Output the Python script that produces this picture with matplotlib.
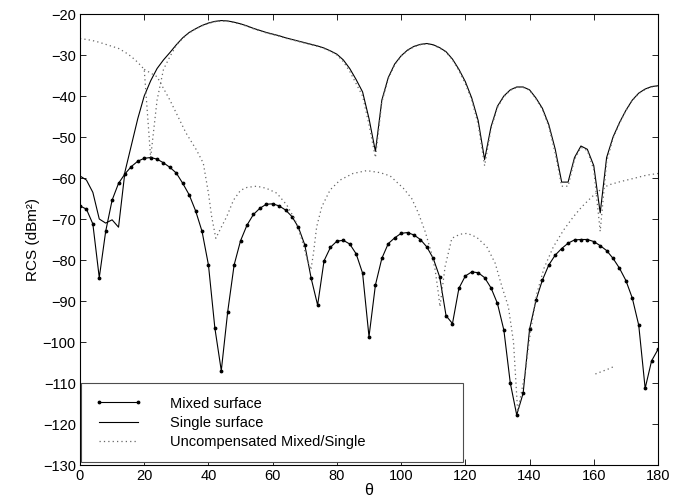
import numpy as np
import matplotlib
matplotlib.use("Agg")
import matplotlib.pyplot as plt

plt.rcParams["font.family"] = ["Liberation Sans", "DejaVu Sans"]

# sampling grid of the two computed curves (2 degree steps)
theta = np.arange(0, 182, 2)

mixed = [
    -66.8, -67.6, -71.2, -84.3, -73.0, -65.4, -61.3, -59.0, -57.2, -55.9,
    -55.2, -55.0, -55.4, -56.3, -57.4, -58.8, -61.3, -64.1, -68.0, -73.0,
    -81.2, -96.6, -107.0, -92.6, -81.2, -75.3, -71.5, -68.9, -67.4, -66.4,
    -66.3, -66.8, -67.8, -69.4, -72.0, -76.3, -84.5, -91.0, -80.2, -76.9,
    -75.4, -75.2, -76.1, -78.5, -83.2, -98.7, -86.1, -79.6, -76.0, -74.6,
    -73.5, -73.3, -73.9, -75.0, -76.8, -79.6, -84.1, -93.6, -95.5, -86.9,
    -83.9, -82.9, -83.1, -84.3, -86.8, -90.6, -97.1, -110.0, -117.8, -112.5,
    -96.9, -89.8, -84.9, -81.2, -78.8, -77.2, -75.9, -75.1, -75.0, -75.0,
    -75.5, -76.5, -77.7, -79.6, -82.0, -85.0, -89.3, -95.9, -111.3, -104.6,
    -101.8,
]

single = [
    -59.5, -60.5, -63.5, -70.0, -71.0, -70.2, -72.0, -58.5, -52.0, -45.5,
    -40.0, -36.3, -33.3, -31.2, -29.4, -27.5, -25.8, -24.5, -23.6, -22.8,
    -22.2, -21.8, -21.6, -21.7, -22.0, -22.4, -22.9, -23.5, -24.0, -24.5,
    -24.9, -25.3, -25.8, -26.2, -26.6, -27.0, -27.4, -27.8, -28.3, -29.0,
    -29.8, -31.2, -33.3, -36.0, -39.0, -45.5, -53.5, -41.0, -35.5, -32.2,
    -30.2, -28.8, -27.9, -27.4, -27.2, -27.5, -28.2, -29.2, -31.0, -33.5,
    -36.5, -40.5, -46.0, -55.5, -47.5, -42.5, -40.0, -38.5, -37.8, -37.8,
    -38.5, -40.5, -43.0, -47.0, -53.0, -61.0, -61.0, -55.0, -52.2, -53.0,
    -57.0, -68.5, -55.0, -50.0, -46.5, -43.5, -41.0, -39.3, -38.3, -37.7,
    -37.5,
]

# uncompensated curve that ends up on top of the single surface result
uncomp_a = [
    -26.0, -26.2, -26.5, -26.9, -27.4, -27.9, -28.4, -29.3, -30.4, -31.8,
    -33.5, -55.0, -41.0, -33.5, -30.4, -27.6, -25.9, -24.6, -23.7, -22.9,
    -22.3, -21.9, -21.7, -21.8, -22.1, -22.5, -23.0, -23.6, -24.1, -24.6,
    -25.0, -25.4, -25.9, -26.3, -26.7, -27.1, -27.5, -27.9, -28.4, -29.1,
    -30.0, -31.6, -34.0, -37.0, -40.0, -47.0, -55.0, -41.5, -35.8, -32.4,
    -30.3, -28.9, -28.0, -27.5, -27.3, -27.6, -28.3, -29.3, -31.2, -33.8,
    -37.0, -41.0, -47.0, -57.0, -48.0, -42.8, -40.2, -38.6, -37.9, -37.9,
    -38.6, -40.7, -43.3, -47.5, -54.0, -62.0, -62.0, -55.5, -52.5, -53.3,
    -58.0, -73.0, -56.0, -50.3, -46.7, -43.6, -41.1, -39.4, -38.4, -37.8,
    -37.6,
]

# uncompensated curve that stays close to the mixed surface result
uncomp_b_theta = [
    20, 24, 28, 33, 36.3, 38.4, 40, 41, 42.3, 44, 45.7, 47.8, 50, 52, 55,
    58, 61.3, 64.4, 67, 69.1, 70.8, 71.9, 72.7, 73.7, 75.3, 77.9, 81, 85,
    89.3, 93.5, 96.6, 100.7, 103.3, 105.4, 107.5, 109.5, 110.6, 111.6,
    112.1, 113.7, 115.8, 118.4, 120.7, 123.6, 126.7, 129.3, 131.4, 133.4,
    135, 136.3, 138.6, 140.2, 142.3, 144.5, 147.4, 150.6, 153.7, 156.3,
    159.4, 162, 164.6, 168.2, 172.4, 176.5, 180,
]
uncomp_b = [
    -33.5, -35.3, -41.0, -49.0, -53.2, -56.4, -63.7, -69.4, -74.7, -72.0,
    -69.4, -65.4, -63.0, -62.3, -62.0, -62.5, -63.7, -66.6, -70.2, -75.1,
    -80.0, -82.4, -78.4, -71.9, -67.0, -62.9, -60.5, -58.9, -58.2, -58.7,
    -59.5, -62.5, -65.0, -68.6, -73.1, -78.4, -82.4, -88.1, -91.4, -81.6,
    -74.7, -73.7, -73.5, -74.5, -76.8, -80.8, -86.5, -91.4, -100.0, -117.0,
    -107.6, -97.9, -88.1, -82.0, -76.8, -72.7, -69.4, -67.0, -64.6, -62.9,
    -61.7, -60.9, -60.1, -59.3, -58.9,
]

# few stray dots near the bottom right
uncomp_c_theta = [160.5, 164.8, 166.2]
uncomp_c = [-107.8, -106.5, -106.0]

fig = plt.figure(figsize=(6.89, 5.04), dpi=100)
ax = fig.add_axes([80 / 689, 1 - 465 / 504, 578 / 689, 451 / 504])

dot_style = dict(color="0.4", linestyle=(0, (1, 2.5)), linewidth=0.9)

ax.plot(theta, mixed, color="black", linewidth=0.8, marker=".",
        markersize=3.5, label="Mixed surface")
ax.plot(theta, single, color="black", linewidth=0.8, label="Single surface")
ax.plot(theta, uncomp_a, label="Uncompensated Mixed/Single", **dot_style)
ax.plot(uncomp_b_theta, uncomp_b, **dot_style)
ax.plot(uncomp_c_theta, uncomp_c, **dot_style)

ax.set_xlim(0, 180)
ax.set_ylim(-130, -20)
ax.set_xticks(np.arange(0, 181, 20))
ax.set_yticks(np.arange(-130, -19, 10))
ax.tick_params(direction="in", top=True, right=True, length=4,
               width=0.6, labelsize=10.5, pad=3)
for s in ax.spines.values():
    s.set_linewidth(0.8)

ax.set_xlabel("θ", fontsize=11.5, labelpad=0)
ax.set_ylabel("RCS (dBm²)", fontsize=11, labelpad=2)

leg = ax.legend(loc="lower left", bbox_to_anchor=(0.002, 0.007, 0.661, 0.189),
                mode="expand", fontsize=10.5, numpoints=2, handlelength=3.3,
                handletextpad=1.9, borderpad=0.9, labelspacing=0.35,
                borderaxespad=0, fancybox=False, framealpha=1)
leg.get_frame().set_edgecolor("0.3")
leg.get_frame().set_linewidth(0.8)

fig.savefig("out.png", dpi=100)
